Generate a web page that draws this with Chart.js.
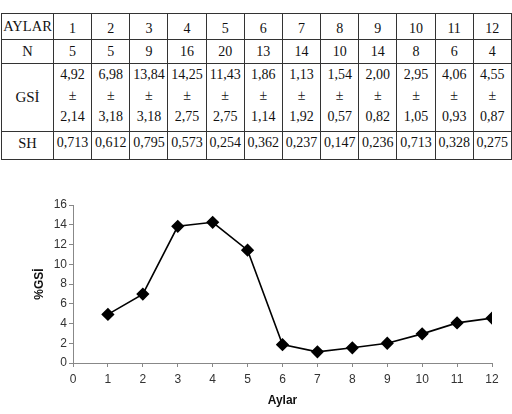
<!DOCTYPE html>
<html>
<head>
<meta charset="utf-8">
<script src="https://cdn.jsdelivr.net/npm/chart.js@4/dist/chart.umd.min.js"></script>
<style>
  html, body { margin: 0; padding: 0; background: #fff; }
  body { width: 512px; height: 414px; position: relative; overflow: hidden; }
  #tbl { position: absolute; left: 1px; top: 13px; border-collapse: collapse; table-layout: fixed; }
  #tbl td { font-family: "Liberation Serif", "Times New Roman", serif; font-size: 14px; color: #111;
            border: 1.5px solid #333; text-align: center; padding: 0; box-sizing: border-box; }
  #tbl tr.r0 td { height: 26px; vertical-align: middle; padding-top: 4px; }
  #tbl tr.r0 td.h { padding-top: 0; }
  #tbl tr.r1 td { height: 24px; vertical-align: middle; }
  #tbl tr.r2 td { height: 68px; vertical-align: top; padding-top: 0px; line-height: 21px; }
  #tbl tr.r2 td.h { vertical-align: middle; font-size: 15px; }
  #tbl tr.r3 td { height: 28px; vertical-align: top; padding-top: 3px; }
  #tbl td.h { font-size: 14.5px; }
  #wrap { position: absolute; left: 0; top: 0; width: 512px; height: 414px; }
</style>
</head>
<body>
<table id="tbl"></table>
<div id="wrap"><canvas id="c" width="512" height="414"></canvas></div>
<script>
const months = [1, 2, 3, 4, 5, 6, 7, 8, 9, 10, 11, 12];
const nValues = [5, 5, 9, 16, 20, 13, 14, 10, 14, 8, 6, 4];
const gsiMeans = [4.92, 6.98, 13.84, 14.25, 11.43, 1.86, 1.13, 1.54, 2.00, 2.95, 4.06, 4.55];
const gsiSD = [2.14, 3.18, 3.18, 2.75, 2.75, 1.14, 1.92, 0.57, 0.82, 1.05, 0.93, 0.87];
const shValues = [0.713, 0.612, 0.795, 0.573, 0.254, 0.362, 0.237, 0.147, 0.236, 0.713, 0.328, 0.275];
const rowHeaders = ["AYLAR", "N", "GSİ", "SH"];

const fmt = (v, d) => v.toFixed(d).replace('.', ',');

// build table
const tbl = document.getElementById('tbl');
const colg = document.createElement('colgroup');
const c0 = document.createElement('col'); c0.style.width = '52px'; colg.appendChild(c0);
months.forEach(() => { const c = document.createElement('col'); c.style.width = '38.17px'; colg.appendChild(c); });
tbl.appendChild(colg);
const rows = [
  months.map(String),
  nValues.map(String),
  gsiMeans.map((m, i) => fmt(m, 2) + '<br>±<br>' + fmt(gsiSD[i], 2)),
  shValues.map(v => fmt(v, 3))
];
rows.forEach((r, ri) => {
  const tr = document.createElement('tr'); tr.className = 'r' + ri;
  const th = document.createElement('td'); th.className = 'h'; th.textContent = rowHeaders[ri]; tr.appendChild(th);
  r.forEach(v => { const td = document.createElement('td'); td.innerHTML = v; tr.appendChild(td); });
  tbl.appendChild(tr);
});

// chart
const tickFont = { family: "'Liberation Sans', Arial, sans-serif", size: 12 };
new Chart(document.getElementById('c'), {
  type: 'line',
  data: {
    datasets: [{
      data: months.map((m, i) => ({ x: m, y: gsiMeans[i] })),
      borderColor: '#000',
      backgroundColor: '#000',
      borderWidth: 1.6,
      pointStyle: 'rectRot',
      pointRadius: 5.5,
      pointHoverRadius: 5.5,
      tension: 0
    }]
  },
  options: {
    responsive: false,
    animation: false,
    events: [],
    layout: { padding: { top: 205, right: 20, left: 0, bottom: 0 } },
    plugins: { legend: { display: false }, tooltip: { enabled: false } },
    scales: {
      x: {
        type: 'linear', min: 0, max: 12,
        afterFit: s => { s.height = 51; },
        ticks: { stepSize: 1, color: '#333', font: tickFont, padding: 5, maxRotation: 0 },
        grid: { drawOnChartArea: false, drawTicks: true, tickLength: 4, color: '#888' },
        border: { display: true, color: '#888', width: 1 },
        title: { display: true, text: 'Aylar', color: '#111', font: { family: "'Liberation Sans', Arial, sans-serif", size: 12, weight: 'bold' }, padding: { top: 0, bottom: 6 } }
      },
      y: {
        min: 0, max: 16,
        afterFit: s => { s.width = 73; },
        ticks: { stepSize: 2, color: '#333', font: tickFont, padding: 2 },
        grid: { drawOnChartArea: false, drawTicks: true, tickLength: 4, color: '#888' },
        border: { display: true, color: '#888', width: 1 },
        title: { display: true, text: '%GSİ', color: '#111', font: { family: "'Liberation Sans', Arial, sans-serif", size: 12, weight: 'bold' }, padding: { top: 32, bottom: 0 } }
      }
    }
  }
});
</script>
</body>
</html>
